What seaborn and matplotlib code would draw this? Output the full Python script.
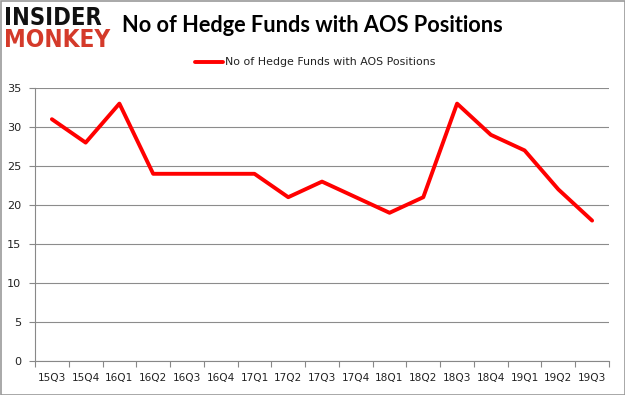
import matplotlib
matplotlib.use("Agg")
import matplotlib.pyplot as plt
import seaborn as sns
import pandas as pd
from matplotlib.ticker import FixedLocator

quarters = ["15Q3", "15Q4", "16Q1", "16Q2", "16Q3", "16Q4", "17Q1", "17Q2", "17Q3",
            "17Q4", "18Q1", "18Q2", "18Q3", "18Q4", "19Q1", "19Q2", "19Q3"]
funds = [31, 28, 33, 24, 24, 24, 24, 21, 23, 21, 19, 21, 33, 29, 27, 22, 18]
series_name = "No of Hedge Funds with AOS Positions"
title = "No of Hedge Funds with AOS Positions"
yticks = [0, 5, 10, 15, 20, 25, 30, 35]

sns.set_theme(style="white")
plt.rcParams["font.family"] = ["DejaVu Sans"]

df = pd.DataFrame({"pos": range(len(quarters)), "value": funds, "series": series_name})

fig = plt.figure(figsize=(6.25, 3.95), dpi=100)
fig.patch.set_facecolor("white")
ax = fig.add_axes([35 / 625, 1 - 361 / 395, (609 - 35) / 625, (361 - 88) / 395])

sns.lineplot(data=df, x="pos", y="value", hue="series", palette=["#ff0000"],
             linewidth=2.8, ax=ax, legend=False)

ax.set_xlim(-0.5, len(quarters) - 0.5)
ax.set_ylim(0, 35)
ax.set_yticks(yticks)
ax.set_yticklabels([str(v) for v in yticks], fontsize=8.1, color="#222222")
ax.set_xticks(range(len(quarters)))
ax.set_xticklabels(quarters, fontsize=7.6, color="#222222")
ax.xaxis.set_minor_locator(FixedLocator([i - 0.5 for i in range(len(quarters) + 1)]))
ax.tick_params(axis="x", which="major", length=0, pad=9)
ax.tick_params(axis="x", which="minor", length=4, color="#888888", width=0.8, bottom=True)
ax.tick_params(axis="y", length=4, color="#888888", width=0.8, left=True, pad=6)
ax.set_xlabel("")
ax.set_ylabel("")
ax.grid(axis="y", color="#8c8c8c", linewidth=0.8)
ax.set_axisbelow(True)
for side in ["top", "right"]:
    ax.spines[side].set_visible(False)
for side in ["left", "bottom"]:
    ax.spines[side].set_color("#888888")
    ax.spines[side].set_linewidth(0.8)

# Title
fig.text(122 / 625, 1 - 26 / 395, title, fontsize=15.7, fontweight="bold",
         family=["Lato", "DejaVu Sans"], va="center", ha="left", color="black")

# Logo
fig.text(4 / 625, 1 - 18 / 395, "INSIDER", fontsize=17, fontweight="heavy",
         fontstretch="condensed", family=["DejaVu Sans"], va="center", ha="left",
         color="#111111")
fig.text(4 / 625, 1 - 40 / 395, "MONKEY", fontsize=17.5, fontweight="heavy",
         fontstretch="condensed", family=["DejaVu Sans"], va="center", ha="left",
         color="#d43a2a")

# Legend
fig.add_artist(plt.Line2D([195 / 625, 223 / 625], [1 - 62 / 395, 1 - 62 / 395],
                          color="#ff0000", linewidth=2.8, transform=fig.transFigure))
fig.text(225 / 625, 1 - 62 / 395, series_name, fontsize=7.9, va="center", ha="left",
         color="#222222")

# Figure border
fig.add_artist(plt.Rectangle((0.5 / 625, 0.5 / 395), 1 - 1 / 625, 1 - 1 / 395,
                             fill=False, edgecolor="#999999", linewidth=1.2,
                             transform=fig.transFigure))

fig.savefig("out.png", dpi=100, facecolor="white")
